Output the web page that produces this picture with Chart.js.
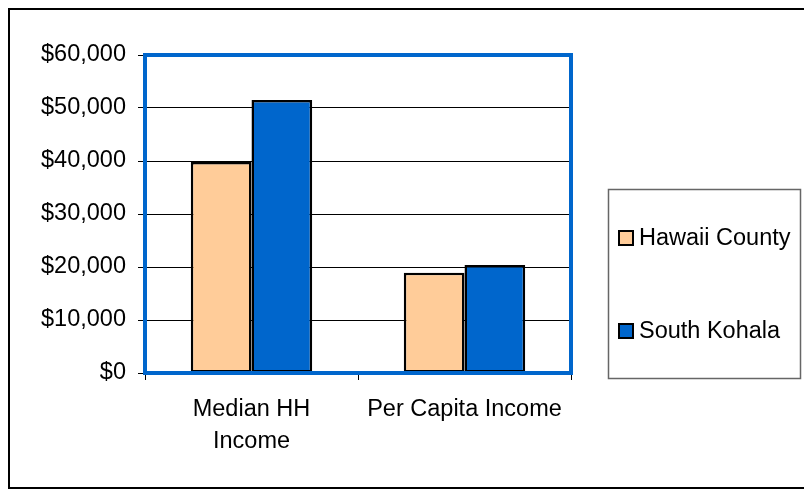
<!DOCTYPE html>
<html>
<head>
<meta charset="utf-8">
<script src="https://cdn.jsdelivr.net/npm/chart.js@4.4.1/dist/chart.umd.min.js"></script>
<style>
  html, body { margin: 0; padding: 0; background: #fff; }
  #wrap { width: 804px; height: 489px; position: relative; }
</style>
</head>
<body>
<div id="wrap"><canvas id="chart"></canvas></div>
<script>
// Income comparison, Hawaii County vs South Kohala
const categorias = [['Median HH', 'Income'], 'Per Capita Income'];
const hawaiiCounty = [39800, 18900];
const southKohala = [51500, 20400];
const serieNomes = ['Hawaii County', 'South Kohala'];
const cores = ['#FFCC99', '#0066CC'];

const fonte = 'Liberation Sans, Arial, sans-serif';
const tamFonte = 23.5;

// moldura externa, borda azul da área do gráfico e caixa da legenda
const molduraPlugin = {
    id: 'moldura',
    beforeDraw(chart) {
        const ctx = chart.ctx;
        ctx.save();
        ctx.fillStyle = '#fff';
        ctx.fillRect(0, 0, chart.width, chart.height);
        ctx.strokeStyle = '#000';
        ctx.lineWidth = 2;
        ctx.beginPath();
        ctx.moveTo(chart.width + 2, 9);
        ctx.lineTo(9, 9);
        ctx.lineTo(9, 488);
        ctx.lineTo(chart.width + 2, 488);
        ctx.stroke();
        ctx.restore();
    },
    afterDraw(chart) {
        const ctx = chart.ctx;
        const a = chart.chartArea;
        ctx.save();
        ctx.strokeStyle = '#0066CC';
        ctx.lineWidth = 4;
        ctx.strokeRect(a.left, a.top, a.right - a.left, a.bottom - a.top);

        // legenda
        ctx.strokeStyle = '#666';
        ctx.lineWidth = 1.5;
        ctx.strokeRect(608.5, 189.5, 192, 189);
        const ys = [238, 331];
        chart.data.datasets.forEach((ds, i) => {
            ctx.fillStyle = ds.backgroundColor;
            ctx.fillRect(619, ys[i] - 7, 14, 14);
            ctx.strokeStyle = '#000';
            ctx.lineWidth = 2;
            ctx.strokeRect(619, ys[i] - 7, 14, 14);
            ctx.fillStyle = '#000';
            ctx.font = tamFonte + 'px ' + fonte;
            ctx.textBaseline = 'middle';
            ctx.textAlign = 'left';
            ctx.fillText(ds.label, 639, ys[i] + 1);
        });
        ctx.restore();
    }
};

new Chart(document.getElementById('chart'), {
    type: 'bar',
    data: {
        labels: categorias,
        datasets: [
            {
                label: serieNomes[0],
                data: hawaiiCounty,
                backgroundColor: cores[0],
                borderColor: '#000',
                borderWidth: 2.5,
                borderSkipped: false
            },
            {
                label: serieNomes[1],
                data: southKohala,
                backgroundColor: cores[1],
                borderColor: '#000',
                borderWidth: 2.5,
                borderSkipped: false
            }
        ]
    },
    options: {
        responsive: true,
        maintainAspectRatio: false,
        animation: false,
        datasets: {
            bar: { categoryPercentage: 0.57, barPercentage: 1.0 }
        },
        layout: { padding: { left: 0, right: 233, top: 55, bottom: 0 } },
        plugins: {
            legend: { display: false },
            tooltip: { enabled: false }
        },
        scales: {
            x: {
                afterFit: (scale) => { scale.height = 116; },
                grid: {
                    offset: true,
                    drawOnChartArea: false,
                    color: '#000',
                    tickLength: 7
                },
                border: { color: '#000', width: 1 },
                ticks: {
                    color: '#000',
                    font: { family: fonte, size: tamFonte, lineHeight: 1.36 },
                    padding: 14,
                    maxRotation: 0,
                    autoSkip: false
                }
            },
            y: {
                min: 0,
                max: 60000,
                afterFit: (scale) => { scale.width = 145; },
                grid: {
                    color: '#000',
                    lineWidth: 1,
                    tickLength: 7
                },
                border: { color: '#000', width: 1 },
                ticks: {
                    stepSize: 10000,
                    color: '#000',
                    font: { family: fonte, size: tamFonte },
                    padding: 12,
                    callback: (v) => '$' + v.toLocaleString('en-US')
                }
            }
        }
    },
    plugins: [molduraPlugin]
});
</script>
</body>
</html>
